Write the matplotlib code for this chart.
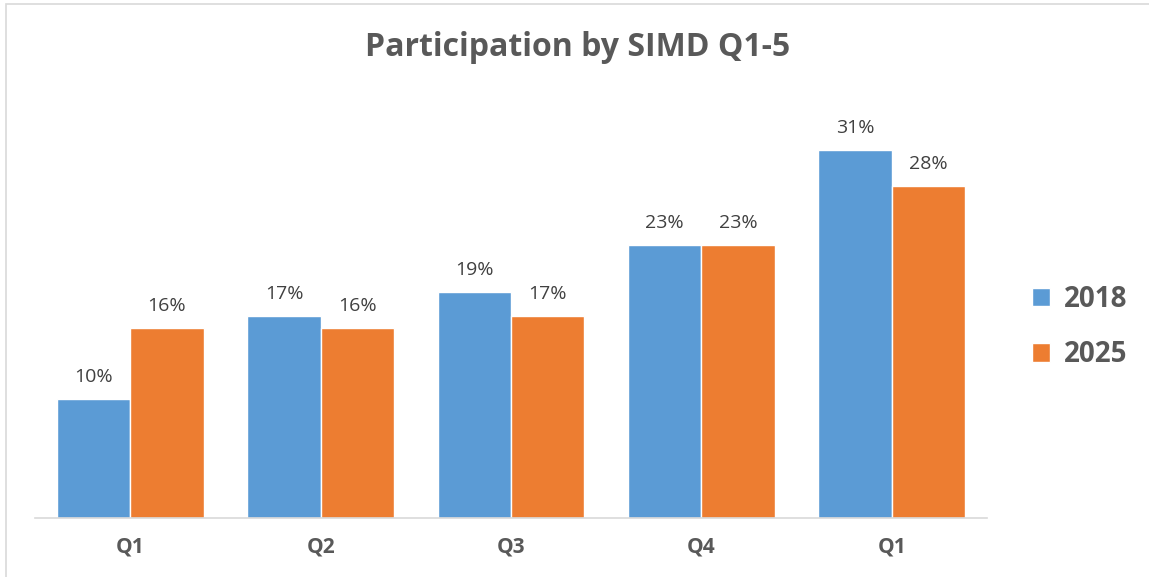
import numpy as np
import matplotlib.pyplot as plt
from matplotlib.patches import Rectangle

categories = ["Q1", "Q2", "Q3", "Q4", "Q1"]
years = ["2018", "2025"]
vals_2018 = [10, 17, 19, 23, 31]
vals_2025 = [16, 16, 17, 23, 28]
colors = ["#5B9BD5", "#ED7D31"]

plt.rcParams["font.family"] = ["Open Sans", "DejaVu Sans"]

fig = plt.figure(figsize=(11.49, 5.77), dpi=100)
# chart border
fig.patches.append(Rectangle((6 / 1149, -0.01), 1.01, (573 - 0) / 577 + 0.01,
                             transform=fig.transFigure, fill=False,
                             edgecolor="#D9D9D9", linewidth=1.2))

ax = fig.add_axes([35 / 1149, 59 / 577, 952 / 1149, 438 / 577])
x = np.arange(len(categories))
w = 0.385
b1 = ax.bar(x - w / 2, vals_2018, w, color=colors[0], edgecolor="white", linewidth=1, label=years[0])
b2 = ax.bar(x + w / 2, vals_2025, w, color=colors[1], edgecolor="white", linewidth=1, label=years[1])

for bars in (b1, b2):
    for r in bars:
        ax.text(r.get_x() + r.get_width() / 2, r.get_height() + 1.1, f"{r.get_height():.0f}%",
                ha="center", va="bottom", fontsize=14, color="#404040")

ax.set_xlim(-0.5, len(categories) - 0.5)
ax.set_ylim(0, 36.9)
ax.set_yticks([])
ax.set_xticks(x)
ax.set_xticklabels(categories, fontsize=15, fontweight="bold", color="#595959")
ax.tick_params(axis="x", length=0, pad=13)
for s in ["top", "right", "left"]:
    ax.spines[s].set_visible(False)
ax.spines["bottom"].set_color("#D9D9D9")
ax.spines["bottom"].set_linewidth(1.2)

fig.text(578 / 1149, 1 - 48 / 577, "Participation by SIMD Q1-5", ha="center", va="center",
         fontsize=23, fontweight="bold", color="#595959")

fig.legend(handles=[b1, b2], labels=years, loc="center left",
           bbox_to_anchor=(1007 / 1149, 1 - 327 / 577), frameon=False,
           prop={"size": 20, "weight": "bold"}, labelcolor="#595959",
           handlelength=0.65, handleheight=0.65, handletextpad=0.5, labelspacing=0.95)

fig.savefig("out.png", dpi=100)
